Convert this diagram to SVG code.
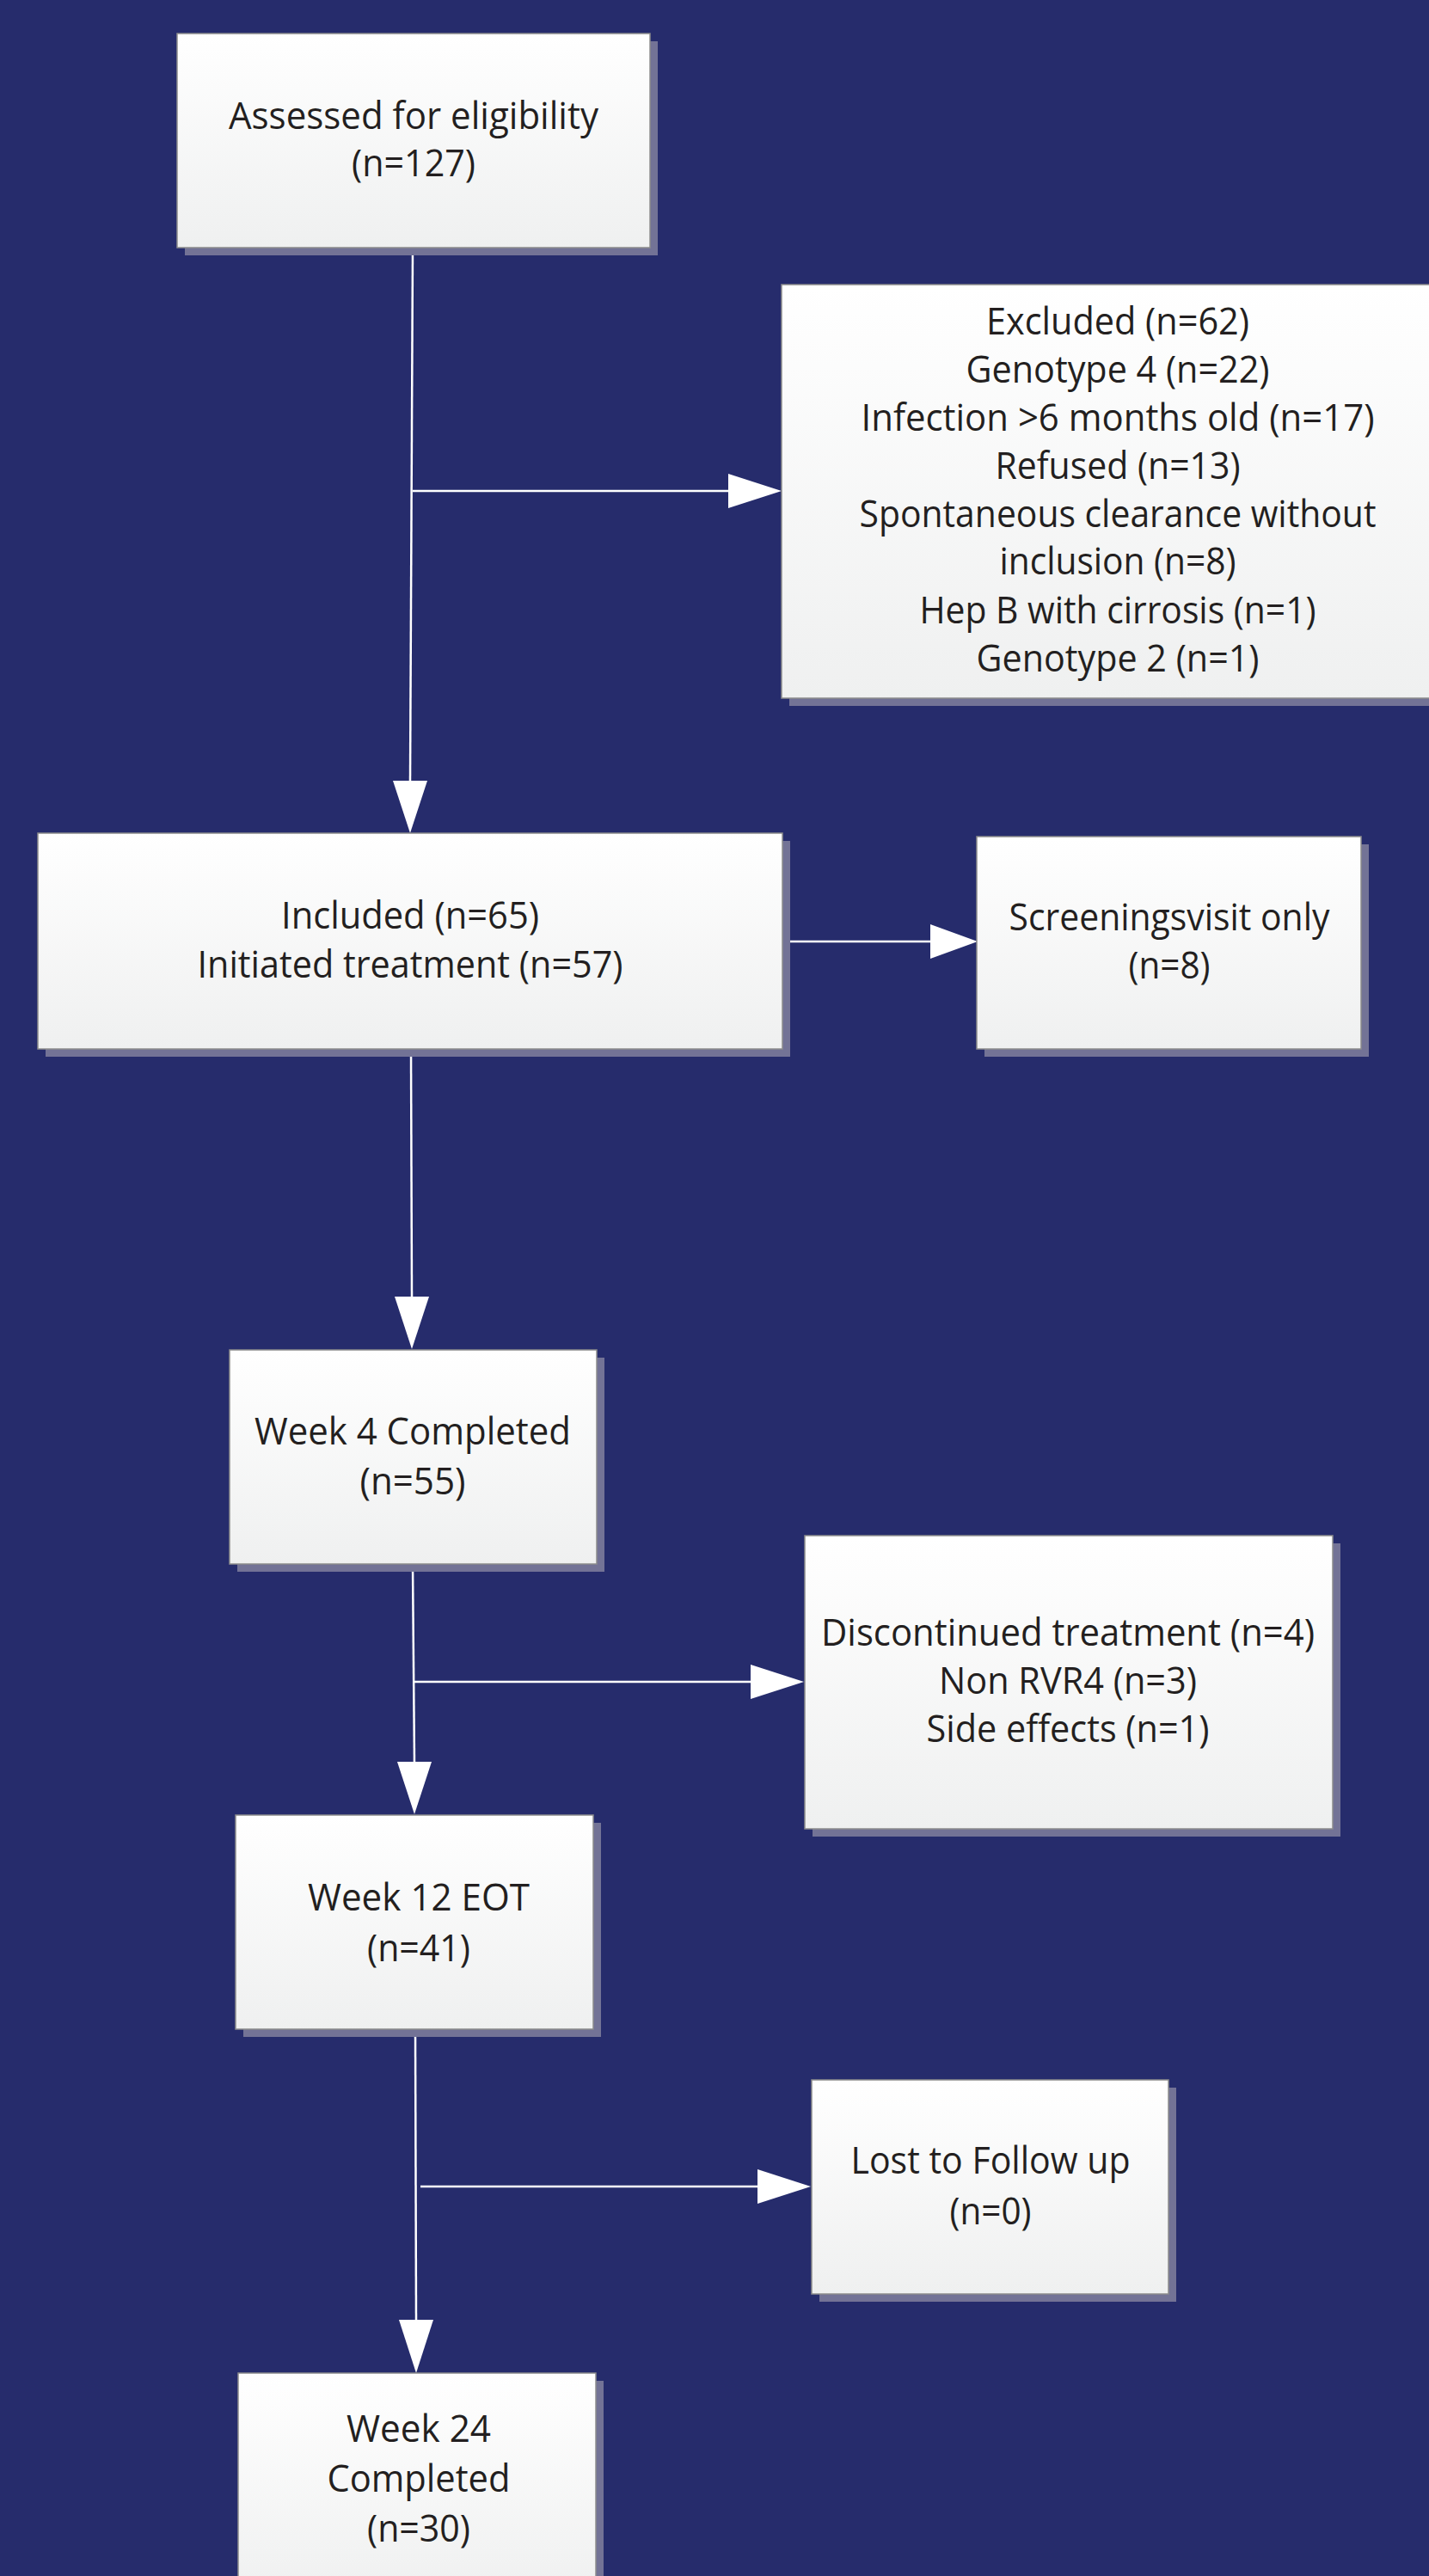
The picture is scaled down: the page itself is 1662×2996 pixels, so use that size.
<svg xmlns="http://www.w3.org/2000/svg" width="1662" height="2996" viewBox="0 0 1662 2996">
<defs>
<linearGradient id="boxfill" x1="0" y1="0" x2="0" y2="1">
<stop offset="0" stop-color="#ffffff"/>
<stop offset="1" stop-color="#eff0f0"/>
</linearGradient>
<style>
.shadow{fill:#737396;}
.box{fill:url(#boxfill);stroke:#8c8c8c;stroke-width:1.5;}
.lbl{font-family:"Open Sans","Noto Sans","Liberation Sans",sans-serif;font-size:44px;fill:#231f20;text-anchor:middle;}
.conn line{stroke:#ffffff;stroke-width:2.5;}
.conn polygon{fill:#ffffff;}
</style>
</defs>
<rect x="0" y="0" width="1662" height="2996" fill="#262c6c"/>

<g id="connectors" class="conn">
<line x1="480" y1="288" x2="477" y2="910"/>
<polygon points="457,908 497,908 477,969"/>
<line x1="480" y1="571" x2="849" y2="571"/>
<polygon points="847,551 847,591 909,571"/>
<line x1="909" y1="1095" x2="1084" y2="1095"/>
<polygon points="1082,1075 1082,1115 1137,1095"/>
<line x1="478" y1="1220" x2="479" y2="1510"/>
<polygon points="459,1508 499,1508 479,1569"/>
<line x1="480" y1="1819" x2="482" y2="2051"/>
<polygon points="462,2049 502,2049 482,2110"/>
<line x1="481" y1="1956" x2="875" y2="1956"/>
<polygon points="873,1936 873,1976 935,1956"/>
<line x1="483" y1="2360" x2="484" y2="2700"/>
<polygon points="464,2698 504,2698 484,2760"/>
<line x1="489" y1="2543" x2="883" y2="2543"/>
<polygon points="881,2523 881,2563 943,2543"/>
</g>

<g id="assessed">
<rect class="shadow" x="215" y="48" width="550" height="249"/>
<rect class="box" x="206" y="39" width="550" height="249"/>
<text class="lbl" x="481" y="150" textLength="430" lengthAdjust="spacingAndGlyphs">Assessed for eligibility</text>
<text class="lbl" x="481" y="205" textLength="144" lengthAdjust="spacingAndGlyphs">(n=127)</text>
</g>

<g id="excluded">
<rect class="shadow" x="918" y="340" width="791" height="481"/>
<rect class="box" x="909" y="331" width="791" height="481"/>
<text class="lbl" x="1300" y="389" textLength="306" lengthAdjust="spacingAndGlyphs">Excluded (n=62)</text>
<text class="lbl" x="1300" y="445" textLength="353" lengthAdjust="spacingAndGlyphs">Genotype 4 (n=22)</text>
<text class="lbl" x="1300" y="501" textLength="597" lengthAdjust="spacingAndGlyphs">Infection &gt;6 months old (n=17)</text>
<text class="lbl" x="1300" y="557" textLength="285" lengthAdjust="spacingAndGlyphs">Refused (n=13)</text>
<text class="lbl" x="1300" y="613" textLength="601" lengthAdjust="spacingAndGlyphs">Spontaneous clearance without</text>
<text class="lbl" x="1300" y="668" textLength="275" lengthAdjust="spacingAndGlyphs">inclusion (n=8)</text>
<text class="lbl" x="1300" y="725" textLength="461" lengthAdjust="spacingAndGlyphs">Hep B with cirrosis (n=1)</text>
<text class="lbl" x="1300" y="781" textLength="329" lengthAdjust="spacingAndGlyphs">Genotype 2 (n=1)</text>
</g>

<g id="included">
<rect class="shadow" x="53" y="978" width="866" height="251"/>
<rect class="box" x="44" y="969" width="866" height="251"/>
<text class="lbl" x="477" y="1080" textLength="300" lengthAdjust="spacingAndGlyphs">Included (n=65)</text>
<text class="lbl" x="477" y="1137" textLength="495" lengthAdjust="spacingAndGlyphs">Initiated treatment (n=57)</text>
</g>

<g id="screening">
<rect class="shadow" x="1145" y="982" width="447" height="247"/>
<rect class="box" x="1136" y="973" width="447" height="247"/>
<text class="lbl" x="1360" y="1082" textLength="373" lengthAdjust="spacingAndGlyphs">Screeningsvisit only</text>
<text class="lbl" x="1360" y="1138" textLength="95" lengthAdjust="spacingAndGlyphs">(n=8)</text>
</g>

<g id="week4">
<rect class="shadow" x="276" y="1579" width="427" height="249"/>
<rect class="box" x="267" y="1570" width="427" height="249"/>
<text class="lbl" x="480" y="1680" textLength="368" lengthAdjust="spacingAndGlyphs">Week 4 Completed</text>
<text class="lbl" x="480" y="1738" textLength="123" lengthAdjust="spacingAndGlyphs">(n=55)</text>
</g>

<g id="discontinued">
<rect class="shadow" x="945" y="1795" width="614" height="341"/>
<rect class="box" x="936" y="1786" width="614" height="341"/>
<text class="lbl" x="1242" y="1914" textLength="574" lengthAdjust="spacingAndGlyphs">Discontinued treatment (n=4)</text>
<text class="lbl" x="1242" y="1970" textLength="300" lengthAdjust="spacingAndGlyphs">Non RVR4 (n=3)</text>
<text class="lbl" x="1242" y="2026" textLength="329" lengthAdjust="spacingAndGlyphs">Side effects (n=1)</text>
</g>

<g id="week12">
<rect class="shadow" x="283" y="2120" width="416" height="249"/>
<rect class="box" x="274" y="2111" width="416" height="249"/>
<text class="lbl" x="487" y="2222" textLength="258" lengthAdjust="spacingAndGlyphs">Week 12 EOT</text>
<text class="lbl" x="487" y="2281" textLength="120" lengthAdjust="spacingAndGlyphs">(n=41)</text>
</g>

<g id="lost">
<rect class="shadow" x="953" y="2428" width="415" height="249"/>
<rect class="box" x="944" y="2419" width="415" height="249"/>
<text class="lbl" x="1152" y="2528" textLength="325" lengthAdjust="spacingAndGlyphs">Lost to Follow up</text>
<text class="lbl" x="1152" y="2587" textLength="95" lengthAdjust="spacingAndGlyphs">(n=0)</text>
</g>

<g id="week24">
<rect class="shadow" x="286" y="2769" width="416" height="260"/>
<rect class="box" x="277" y="2760" width="416" height="260"/>
<text class="lbl" x="487" y="2840" textLength="168" lengthAdjust="spacingAndGlyphs">Week 24</text>
<text class="lbl" x="487" y="2898" textLength="213" lengthAdjust="spacingAndGlyphs">Completed</text>
<text class="lbl" x="487" y="2956" textLength="120" lengthAdjust="spacingAndGlyphs">(n=30)</text>
</g>
</svg>
